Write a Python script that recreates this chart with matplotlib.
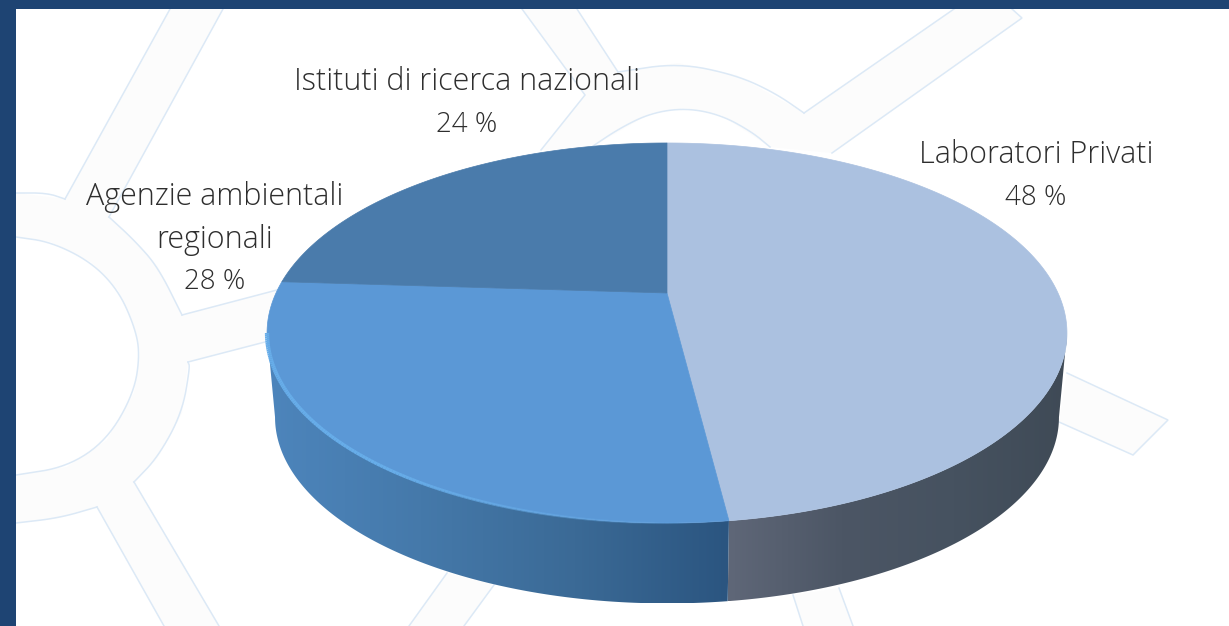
# -*- coding: utf-8 -*-
import numpy as np
import matplotlib
matplotlib.use('Agg')
import matplotlib.pyplot as plt
from matplotlib.patches import Polygon
from matplotlib.collections import LineCollection
from matplotlib.colors import to_rgb

# shares, clockwise from the top
shares = [48, 28, 24]
names = [['Laboratori Privati'], ['Agenzie ambientali', 'regionali'], ['Istituti di ricerca nazionali']]
top_colors = ['#abc1e0', '#5b98d6', '#4a7bab']
# side colours along the visible rim, from left to right in the picture
side_stops = [['#5f6778', '#4c5665', '#465260', '#3f4a56'],
              ['#4d85bc', '#4579aa', '#3b6a96', '#2b5580'],
              ['#4a7bab', '#4a7bab', '#4a7bab', '#4a7bab']]

W, H = 1229, 626
CX, CY = 667, 293
A, B, K = 391, 181.6, 0.2105
DEPTH, LOW = 85, 0.98


def project(deg, scale=1.0, drop=0):
    # circle seen in perspective, angle clockwise from the far side
    t = np.radians(deg)
    x, y = np.sin(t), np.cos(t)
    d = 1 + K * y
    return CX + scale * A * x / d, CY + drop - scale * B * y / d


def smooth(pts, n=3):
    # corner cutting, keeps the ends
    p = np.array(pts, dtype=float)
    for _ in range(n):
        q = 0.75 * p[:-1] + 0.25 * p[1:]
        r = 0.25 * p[:-1] + 0.75 * p[1:]
        mid = np.empty((2 * len(q), 2))
        mid[0::2], mid[1::2] = q, r
        p = np.vstack([p[0], mid, p[-1]])
    return p


fig = plt.figure(figsize=(12.29, 6.26), dpi=100, facecolor='white')
ax = fig.add_axes([0, 0, 1, 1])

# background decoration, faint hexagon network
line_c = '#dce9f6'
band_c = '#fcfcfc'
arc_a = smooth([(16, 193), (47, 193), (65, 199)], 2)
arc_b = smooth([(109, 217), (134, 240), (158, 267), (182, 315)])
arc_c = smooth([(16, 237), (51, 242), (91, 262), (118, 290), (134, 325), (140, 353),
                (134, 393), (107, 440), (67, 467), (16, 475)])
arc_d = smooth([(188, 362), (190, 367), (182, 413), (158, 457), (134, 482)])
arc_e = smooth([(16, 523), (59, 518), (97, 507)])
arc_f = smooth([(618, 72), (678, 63), (736, 75), (775, 93), (804, 113)])
arc_g = smooth([(590, 148), (620, 128), (651, 113), (686, 108), (721, 115), (752, 132), (770, 147)])

bands = [
    [(170, 9), (223, 9), (109, 217), (65, 199)],
    [(16, 193), (65, 199), (109, 217), (134, 240), (158, 267), (182, 315), (277, 290), (265, 342),
     (188, 362), (182, 413), (158, 457), (134, 482), (97, 507), (59, 518), (16, 523), (16, 475),
     (67, 467), (107, 440), (134, 393), (140, 353), (134, 325), (118, 290), (91, 262), (51, 242), (16, 237)],
    [(134, 482), (97, 507), (164, 626), (219, 626)],
    [(522, 9), (577, 9), (618, 72), (585, 95)],
    [(585, 95), (618, 72), (678, 63), (736, 75), (804, 113), (954, 9), (1012, 9), (1022, 18),
     (832, 153), (770, 147), (721, 115), (686, 108), (651, 113), (590, 148), (541, 150)],
    [(1067, 373), (1168, 420), (1133, 455), (1059, 422)],
    [(447, 573), (494, 585), (464, 626), (409, 626)],
    [(793, 595), (839, 588), (853, 626), (803, 626)],
]
for b in bands:
    ax.fill(*zip(*b), color=band_c, lw=0, zorder=1)

lines = [
    [(170, 9), (65, 199)], arc_a, [(223, 9), (109, 217)], arc_b, [(182, 315), (277, 290)],
    arc_c, [(265, 342), (188, 362)], arc_d, [(134, 482), (219, 626)], arc_e, [(97, 507), (164, 626)],
    [(447, 573), (409, 626)], [(494, 585), (464, 626)],
    [(522, 9), (585, 95), (541, 150)], [(577, 9), (618, 72)], arc_f, [(804, 113), (954, 9)],
    [(1012, 9), (1022, 18), (832, 153)], arc_g,
    [(1067, 373), (1168, 420), (1133, 455), (1059, 422)],
    [(793, 595), (803, 626)], [(839, 588), (853, 626)],
]
for l in lines:
    ax.plot(*zip(*l), color=line_c, lw=1.1, zorder=2, solid_joinstyle='miter')

# slice limits from the shares
edges = np.concatenate([[0], np.cumsum(shares)]) * 3.6
# the rim turns away from the viewer at these angles
turn = np.degrees(np.arccos(-K))

# side of the disc, one horizontal gradient per slice clipped to its outline
for i, (a0, a1) in enumerate(zip(edges[:-1], edges[1:])):
    lo, hi = max(a0, turn), min(a1, 360 - turn)
    if lo >= hi:
        continue
    t = np.linspace(lo, hi, 200)
    xa, ya = project(t)
    xb, yb = project(t, LOW, DEPTH)
    outline = np.c_[np.r_[xa, xb[::-1]], np.r_[ya, yb[::-1]]]
    x0, x1 = outline[:, 0].min(), outline[:, 0].max()
    y0, y1 = outline[:, 1].min(), outline[:, 1].max()
    stops = np.array([to_rgb(c) for c in side_stops[i]])
    pos = np.linspace(0, 1, len(stops))
    f = np.linspace(0, 1, 300)
    grad = np.stack([np.interp(f, pos, stops[:, j]) for j in range(3)], axis=-1)[None, :, :]
    im = ax.imshow(grad, extent=(x0, x1, y1, y0), aspect='auto', zorder=3, interpolation='bilinear')
    im.set_clip_path(Polygon(outline, closed=True, transform=ax.transData))

# top of the disc
for i, (a0, a1) in enumerate(zip(edges[:-1], edges[1:])):
    xs, ys = project(np.linspace(a0, a1, 200))
    ax.fill(np.r_[CX, xs], np.r_[CY, ys], color=top_colors[i], lw=0.5, zorder=4)

# light rim on the middle slice, thick on the left and fading to the right
rx, ry = project(np.linspace(360 - turn, edges[1], 160))
seg = np.stack([np.c_[rx[:-1], ry[:-1]], np.c_[rx[1:], ry[1:]]], axis=1)
fade = np.linspace(1, 0, len(seg))
rim_rgb = np.array(to_rgb('#67ade9'))
rim_cols = np.c_[np.tile(rim_rgb, (len(seg), 1)), np.clip(fade * 2, 0, 1)]
ax.add_collection(LineCollection(seg, colors=rim_cols, linewidths=1.5 + 1.6 * fade, zorder=5,
                                 capstyle='butt'))

# labels
text_c = '#2e2e2e'
label_y = [[155], [197, 240], [82]]
pct_pos = [(1036, 198), (215, 282), (467, 125)]
for n, v, ly, pp in zip(names, shares, label_y, pct_pos):
    for part, y in zip(n, ly):
        ax.text(pp[0], y, part, ha='center', va='center', fontsize=22, family='Open Sans',
                fontweight='light', color=text_c, zorder=6)
    ax.text(pp[0], pp[1], str(v) + ' %', ha='center', va='center', fontsize=20, family='Open Sans',
            fontweight='light', color=text_c, zorder=6)

# dark frame on the left and top
border_c = '#1e4473'
ax.axvspan(0, 16, color=border_c, lw=0, zorder=7)
ax.axhspan(0, 9, color=border_c, lw=0, zorder=7)

ax.set_xlim(0, W)
ax.set_ylim(H, 0)
ax.axis('off')

fig.savefig('out.png', dpi=100, facecolor='white')
plt.close()
